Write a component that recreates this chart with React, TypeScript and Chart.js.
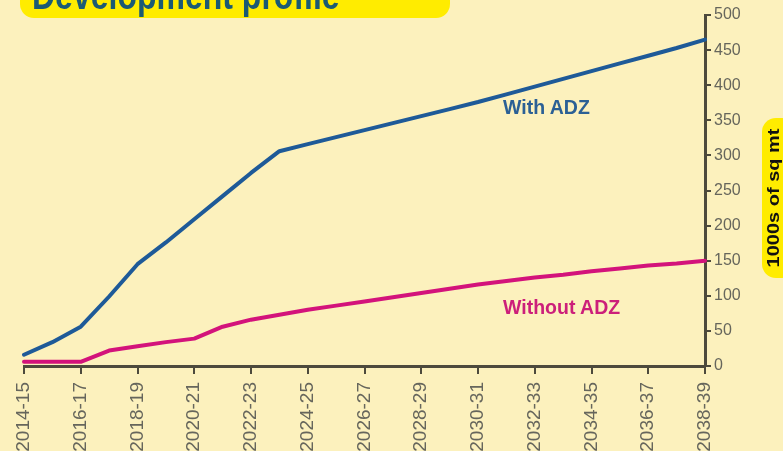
import React, { useEffect, useRef } from "react";
import { Chart, registerables } from "chart.js";

Chart.register(...registerables);

const categories = [
  "2014-15", "2015-16", "2016-17", "2017-18", "2018-19", "2019-20", "2020-21",
  "2021-22", "2022-23", "2023-24", "2024-25", "2025-26", "2026-27", "2027-28",
  "2028-29", "2029-30", "2030-31", "2031-32", "2032-33", "2033-34", "2034-35",
  "2035-36", "2036-37", "2037-38", "2038-39",
];

const withADZ = [
  16, 34, 56, 99, 145, 176, 209, 242, 275, 306, 316, 326, 336, 346, 356, 366,
  376, 387, 398, 409, 420, 431, 442, 453, 465,
];

const withoutADZ = [
  6, 6, 6, 22, 28, 34, 39, 56, 66, 73, 80, 86, 92, 98, 104, 110, 116, 121,
  126, 130, 135, 139, 143, 146, 150,
];

const yTicks = [0, 50, 100, 150, 200, 250, 300, 350, 400, 450, 500];

const BG = "#fcf1bd";
const YELLOW = "#ffec00";
const AXIS = "#4d4a3c";
const TICK_TEXT = "#66665c";
const BLUE = "#1e5a98";
const PINK = "#d3137b";

export default function App() {
  const canvasRef = useRef<HTMLCanvasElement | null>(null);

  useEffect(() => {
    const canvas = canvasRef.current;
    if (!canvas) return;
    const chart = new Chart(canvas, {
      type: "line",
      data: {
        labels: categories,
        datasets: [
          {
            label: "With ADZ",
            data: withADZ,
            borderColor: BLUE,
            borderWidth: 4,
            pointRadius: 0,
            tension: 0,
            borderJoinStyle: "round",
            borderCapStyle: "round",
            fill: false,
          },
          {
            label: "Without ADZ",
            data: withoutADZ,
            borderColor: PINK,
            borderWidth: 4,
            pointRadius: 0,
            tension: 0,
            borderJoinStyle: "round",
            borderCapStyle: "round",
            fill: false,
          },
        ],
      },
      options: {
        responsive: false,
        animation: false,
        layout: { padding: { left: 24, top: 15, right: 0, bottom: 0 } },
        plugins: {
          legend: { display: false },
          tooltip: { enabled: false },
          title: { display: false },
        },
        scales: {
          x: {
            type: "category",
            offset: false,
            grid: {
              drawOnChartArea: false,
              drawTicks: true,
              tickLength: 8,
              lineWidth: 2,
              color: (ctx: any) => (ctx.index % 2 === 0 ? AXIS : "rgba(0,0,0,0)"),
            },
            border: { display: true, color: AXIS, width: 3 },
            ticks: {
              autoSkip: false,
              maxRotation: 90,
              minRotation: 90,
              padding: 8,
              color: TICK_TEXT,
              font: { family: "'Liberation Sans', Arial, sans-serif", size: 19 },
              callback: (_v: any, i: number) => (i % 2 === 0 ? categories[i] : ""),
            },
            afterFit: (scale: any) => {
              scale.height = 85;
            },
          },
          y: {
            position: "right",
            min: 0,
            max: 500,
            afterBuildTicks: (scale: any) => {
              scale.ticks = yTicks.map((v) => ({ value: v }));
            },
            grid: {
              drawOnChartArea: false,
              drawTicks: true,
              tickLength: 6,
              lineWidth: 2,
              color: AXIS,
            },
            border: { display: true, color: AXIS, width: 3 },
            ticks: {
              padding: 3,
              color: TICK_TEXT,
              font: { family: "'Liberation Sans', Arial, sans-serif", size: 16 },
            },
            afterFit: (scale: any) => {
              scale.width = 78;
            },
          },
        },
      },
    });
    return () => chart.destroy();
  }, []);

  return (
    <div
      style={{
        position: "fixed",
        left: 0,
        top: 0,
        width: 783,
        height: 451,
        background: BG,
        overflow: "hidden",
      }}
    >
      <canvas
        ref={canvasRef}
        width={783}
        height={451}
        style={{ position: "absolute", left: 0, top: 0, width: 783, height: 451, display: "block" }}
      />
      <div
        style={{
          position: "absolute",
          left: 20,
          top: -30,
          width: 430,
          height: 48,
          background: YELLOW,
          borderRadius: 14,
        }}
      />
      <div
        style={{
          position: "absolute",
          left: 32,
          top: -25,
          fontFamily: "'Liberation Sans', Arial, sans-serif",
          fontWeight: "bold",
          fontSize: 40,
          lineHeight: "40px",
          color: "#1b5a74",
          whiteSpace: "nowrap",
          transform: "scaleX(0.8)",
          transformOrigin: "left top",
        }}
      >
        Development profile
      </div>
      <div
        style={{
          position: "absolute",
          left: 762,
          top: 118,
          width: 34,
          height: 160,
          background: YELLOW,
          borderRadius: 14,
        }}
      />
      <div
        style={{
          position: "absolute",
          left: 773,
          top: 198,
          fontFamily: "'Liberation Sans', Arial, sans-serif",
          fontWeight: "bold",
          fontSize: 20,
          lineHeight: "20px",
          color: "#111",
          whiteSpace: "nowrap",
          transform: "translate(-50%, -50%) scaleX(0.8) rotate(-90deg)",
        }}
      >
        1000s of sq mt
      </div>
      <div
        style={{
          position: "absolute",
          left: 503,
          top: 98,
          fontFamily: "'Liberation Sans', Arial, sans-serif",
          fontWeight: "bold",
          fontSize: 19.5,
          lineHeight: "19.5px",
          color: "#2b6095",
          whiteSpace: "nowrap",
        }}
      >
        With ADZ
      </div>
      <div
        style={{
          position: "absolute",
          left: 503,
          top: 298,
          fontFamily: "'Liberation Sans', Arial, sans-serif",
          fontWeight: "bold",
          fontSize: 19.5,
          lineHeight: "19.5px",
          color: "#cc1f7a",
          whiteSpace: "nowrap",
        }}
      >
        Without ADZ
      </div>
    </div>
  );
}
